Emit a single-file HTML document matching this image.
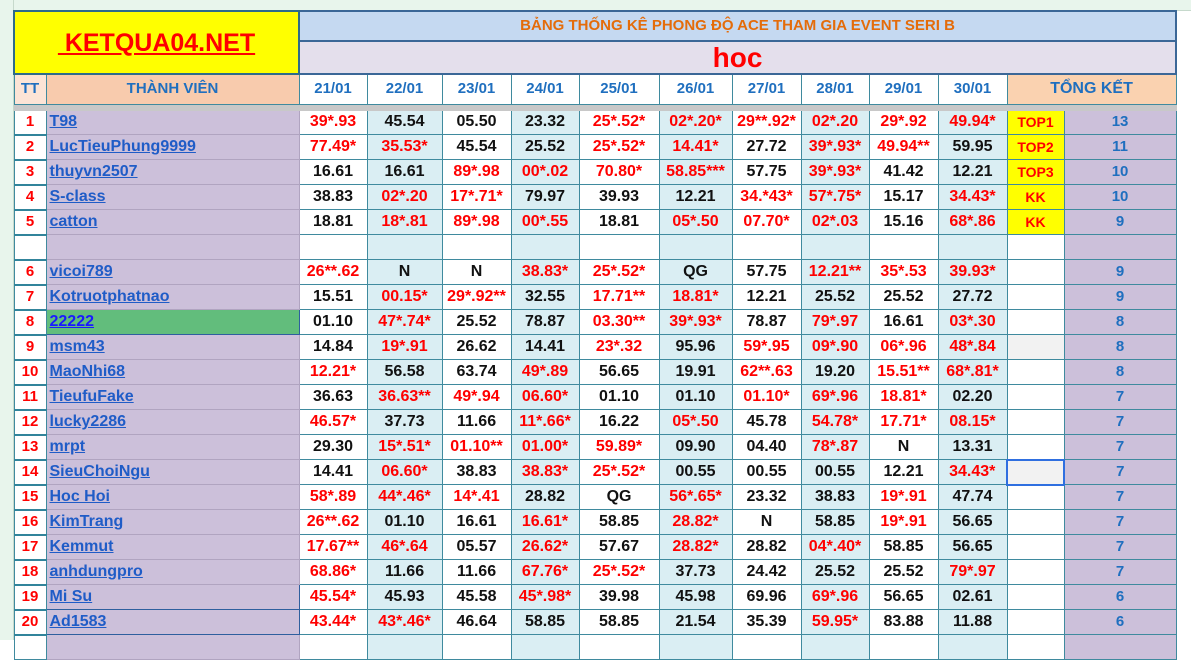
<!DOCTYPE html>
<html><head><meta charset="utf-8">
<style>
body{margin:0;width:1191px;height:640px;overflow:hidden;background:#fff;font-family:"Liberation Sans",Arial,sans-serif;position:relative}
.colhdr{position:absolute;left:0;top:0;width:1191px;height:10px;background:#e8f5ec;border-bottom:1px solid #c6d9cc}
.rowhdr{position:absolute;left:0;top:0;width:13px;height:640px;background:#e8f5ec;border-right:1px solid #c6d9cc}
table{position:absolute;left:13px;top:10px;border-collapse:collapse;table-layout:fixed;width:1162px}
td{border:1px solid #3f8a9e;padding:0;text-align:center;font-weight:bold;font-size:16px;white-space:nowrap;overflow:hidden;color:#111;line-height:18px}
tr.d td{height:23px}
.r{color:#f00}
td.w{background:#fff}
td.b{background:#daeef3}
td.tt{color:#f00;font-size:15px;background:#fff;border-bottom:2px solid #31849b}
td.nm{background:#ccc0da;text-align:left;padding-left:3px;font-size:16px;border-color:#b0a4c0}
td.nm span{color:#1f5cc7;text-decoration:underline}
td.top{background:#fff;font-weight:normal}
td.y{background:#ff0;color:#f00;font-weight:bold;font-size:14px}
td.tot{background:#ccc0da;color:#1f6fbf;font-size:15px}
td.h{color:#1f6fbf;background:#fff;font-size:15px}
</style></head><body>
<div class="colhdr"></div><div class="rowhdr"></div>
<table>
<colgroup><col style="width:32px"><col style="width:253px"><col style="width:68px"><col style="width:75px"><col style="width:69px"><col style="width:68px"><col style="width:80px"><col style="width:73px"><col style="width:69px"><col style="width:68px"><col style="width:69px"><col style="width:69px"><col style="width:57px"><col style="width:112px"></colgroup>
<tr style="height:30px"><td colspan="2" rowspan="2" style="background:#ff0;border:2px solid #2e6b8a"><span style="color:#f00;font-size:25px;line-height:30px;text-decoration:underline">&nbsp;KETQUA04.NET</span></td><td colspan="12" style="background:#c5d9f1;color:#e46c0a;font-size:15px;border:2px solid #3b6797">BẢNG THỐNG KÊ PHONG ĐỘ ACE THAM GIA EVENT SERI B</td></tr>
<tr style="height:33px"><td colspan="12" style="background:#e4dfec;color:#f00;font-size:28px;line-height:30px;border:2px solid #3b6797">hoc</td></tr>
<tr style="height:30px"><td class="h" style="background:#fce4d6">TT</td><td class="h" style="background:#f8cbad">THÀNH VIÊN</td><td class="h">21/01</td><td class="h">22/01</td><td class="h">23/01</td><td class="h">24/01</td><td class="h">25/01</td><td class="h">26/01</td><td class="h">27/01</td><td class="h">28/01</td><td class="h">29/01</td><td class="h">30/01</td><td class="h" colspan="2" style="background:#fad2b0;font-size:16px">TỔNG KẾT</td></tr>
<tr><td colspan="14" style="background:#c8c8c8;border-color:#c8c8c8;height:5px;line-height:5px;font-size:1px"></td></tr>
<tr class="d"><td class="tt">1</td><td class="nm"><span>T98</span></td><td class="w r">39*.93</td><td class="b">45.54</td><td class="w">05.50</td><td class="b">23.32</td><td class="w r">25*.52*</td><td class="b r">02*.20*</td><td class="w r">29**.92*</td><td class="b r">02*.20</td><td class="w r">29*.92</td><td class="b r">49.94*</td><td class="y">TOP1</td><td class="tot">13</td></tr>
<tr class="d"><td class="tt">2</td><td class="nm"><span>LucTieuPhung9999</span></td><td class="w r">77.49*</td><td class="b r">35.53*</td><td class="w">45.54</td><td class="b">25.52</td><td class="w r">25*.52*</td><td class="b r">14.41*</td><td class="w">27.72</td><td class="b r">39*.93*</td><td class="w r">49.94**</td><td class="b">59.95</td><td class="y">TOP2</td><td class="tot">11</td></tr>
<tr class="d"><td class="tt">3</td><td class="nm"><span>thuyvn2507</span></td><td class="w">16.61</td><td class="b">16.61</td><td class="w r">89*.98</td><td class="b r">00*.02</td><td class="w r">70.80*</td><td class="b r">58.85***</td><td class="w">57.75</td><td class="b r">39*.93*</td><td class="w">41.42</td><td class="b">12.21</td><td class="y">TOP3</td><td class="tot">10</td></tr>
<tr class="d"><td class="tt">4</td><td class="nm"><span>S-class</span></td><td class="w">38.83</td><td class="b r">02*.20</td><td class="w r">17*.71*</td><td class="b">79.97</td><td class="w">39.93</td><td class="b">12.21</td><td class="w r">34.*43*</td><td class="b r">57*.75*</td><td class="w">15.17</td><td class="b r">34.43*</td><td class="y">KK</td><td class="tot">10</td></tr>
<tr class="d"><td class="tt">5</td><td class="nm"><span>catton</span></td><td class="w">18.81</td><td class="b r">18*.81</td><td class="w r">89*.98</td><td class="b r">00*.55</td><td class="w">18.81</td><td class="b r">05*.50</td><td class="w r">07.70*</td><td class="b r">02*.03</td><td class="w">15.16</td><td class="b r">68*.86</td><td class="y">KK</td><td class="tot">9</td></tr>
<tr class="d"><td class="tt"></td><td class="nm"></td><td class="w"></td><td class="b"></td><td class="w"></td><td class="b"></td><td class="w"></td><td class="b"></td><td class="w"></td><td class="b"></td><td class="w"></td><td class="b"></td><td class="top"></td><td class="tot"></td></tr>
<tr class="d"><td class="tt">6</td><td class="nm"><span>vicoi789</span></td><td class="w r">26**.62</td><td class="b">N</td><td class="w">N</td><td class="b r">38.83*</td><td class="w r">25*.52*</td><td class="b">QG</td><td class="w">57.75</td><td class="b r">12.21**</td><td class="w r">35*.53</td><td class="b r">39.93*</td><td class="top"></td><td class="tot">9</td></tr>
<tr class="d"><td class="tt">7</td><td class="nm"><span>Kotruotphatnao</span></td><td class="w">15.51</td><td class="b r">00.15*</td><td class="w r">29*.92**</td><td class="b">32.55</td><td class="w r">17.71**</td><td class="b r">18.81*</td><td class="w">12.21</td><td class="b">25.52</td><td class="w">25.52</td><td class="b">27.72</td><td class="top"></td><td class="tot">9</td></tr>
<tr class="d"><td class="tt">8</td><td class="nm" style="background:#62bd7c;border:1px solid #2e5f9e"><span style="color:#1a1aff">22222</span></td><td class="w">01.10</td><td class="b r">47*.74*</td><td class="w">25.52</td><td class="b">78.87</td><td class="w r">03.30**</td><td class="b r">39*.93*</td><td class="w">78.87</td><td class="b r">79*.97</td><td class="w">16.61</td><td class="b r">03*.30</td><td class="top"></td><td class="tot">8</td></tr>
<tr class="d"><td class="tt">9</td><td class="nm"><span>msm43</span></td><td class="w">14.84</td><td class="b r">19*.91</td><td class="w">26.62</td><td class="b">14.41</td><td class="w r">23*.32</td><td class="b">95.96</td><td class="w r">59*.95</td><td class="b r">09*.90</td><td class="w r">06*.96</td><td class="b r">48*.84</td><td class="top" style="background:#f2f2f2"></td><td class="tot">8</td></tr>
<tr class="d"><td class="tt">10</td><td class="nm"><span>MaoNhi68</span></td><td class="w r">12.21*</td><td class="b">56.58</td><td class="w">63.74</td><td class="b r">49*.89</td><td class="w">56.65</td><td class="b">19.91</td><td class="w r">62**.63</td><td class="b">19.20</td><td class="w r">15.51**</td><td class="b r">68*.81*</td><td class="top"></td><td class="tot">8</td></tr>
<tr class="d"><td class="tt">11</td><td class="nm"><span>TieufuFake</span></td><td class="w">36.63</td><td class="b r">36.63**</td><td class="w r">49*.94</td><td class="b r">06.60*</td><td class="w">01.10</td><td class="b">01.10</td><td class="w r">01.10*</td><td class="b r">69*.96</td><td class="w r">18.81*</td><td class="b">02.20</td><td class="top"></td><td class="tot">7</td></tr>
<tr class="d"><td class="tt">12</td><td class="nm"><span>lucky2286</span></td><td class="w r">46.57*</td><td class="b">37.73</td><td class="w">11.66</td><td class="b r">11*.66*</td><td class="w">16.22</td><td class="b r">05*.50</td><td class="w">45.78</td><td class="b r">54.78*</td><td class="w r">17.71*</td><td class="b r">08.15*</td><td class="top"></td><td class="tot">7</td></tr>
<tr class="d"><td class="tt">13</td><td class="nm"><span>mrpt</span></td><td class="w">29.30</td><td class="b r">15*.51*</td><td class="w r">01.10**</td><td class="b r">01.00*</td><td class="w r">59.89*</td><td class="b">09.90</td><td class="w">04.40</td><td class="b r">78*.87</td><td class="w">N</td><td class="b">13.31</td><td class="top"></td><td class="tot">7</td></tr>
<tr class="d"><td class="tt">14</td><td class="nm"><span>SieuChoiNgu</span></td><td class="w">14.41</td><td class="b r">06.60*</td><td class="w">38.83</td><td class="b r">38.83*</td><td class="w r">25*.52*</td><td class="b">00.55</td><td class="w">00.55</td><td class="b">00.55</td><td class="w">12.21</td><td class="b r">34.43*</td><td class="top" style="background:#f2f2f2;border:2px solid #2f6fe0"></td><td class="tot">7</td></tr>
<tr class="d"><td class="tt">15</td><td class="nm"><span>Hoc Hoi</span></td><td class="w r">58*.89</td><td class="b r">44*.46*</td><td class="w r">14*.41</td><td class="b">28.82</td><td class="w">QG</td><td class="b r">56*.65*</td><td class="w">23.32</td><td class="b">38.83</td><td class="w r">19*.91</td><td class="b">47.74</td><td class="top"></td><td class="tot">7</td></tr>
<tr class="d"><td class="tt">16</td><td class="nm"><span>KimTrang</span></td><td class="w r">26**.62</td><td class="b">01.10</td><td class="w">16.61</td><td class="b r">16.61*</td><td class="w">58.85</td><td class="b r">28.82*</td><td class="w">N</td><td class="b">58.85</td><td class="w r">19*.91</td><td class="b">56.65</td><td class="top"></td><td class="tot">7</td></tr>
<tr class="d"><td class="tt">17</td><td class="nm"><span>Kemmut</span></td><td class="w r">17.67**</td><td class="b r">46*.64</td><td class="w">05.57</td><td class="b r">26.62*</td><td class="w">57.67</td><td class="b r">28.82*</td><td class="w">28.82</td><td class="b r">04*.40*</td><td class="w">58.85</td><td class="b">56.65</td><td class="top"></td><td class="tot">7</td></tr>
<tr class="d"><td class="tt">18</td><td class="nm"><span>anhdungpro</span></td><td class="w r">68.86*</td><td class="b">11.66</td><td class="w">11.66</td><td class="b r">67.76*</td><td class="w r">25*.52*</td><td class="b">37.73</td><td class="w">24.42</td><td class="b">25.52</td><td class="w">25.52</td><td class="b r">79*.97</td><td class="top"></td><td class="tot">7</td></tr>
<tr class="d"><td class="tt">19</td><td class="nm" style="border-color:#2e5f9e"><span>Mi Su</span></td><td class="w r">45.54*</td><td class="b">45.93</td><td class="w">45.58</td><td class="b r">45*.98*</td><td class="w">39.98</td><td class="b">45.98</td><td class="w">69.96</td><td class="b r">69*.96</td><td class="w">56.65</td><td class="b">02.61</td><td class="top"></td><td class="tot">6</td></tr>
<tr class="d"><td class="tt">20</td><td class="nm" style="border-color:#2e5f9e"><span>Ad1583</span></td><td class="w r">43.44*</td><td class="b r">43*.46*</td><td class="w">46.64</td><td class="b">58.85</td><td class="w">58.85</td><td class="b">21.54</td><td class="w">35.39</td><td class="b r">59.95*</td><td class="w">83.88</td><td class="b">11.88</td><td class="top"></td><td class="tot">6</td></tr>
<tr class="d"><td class="tt" style="border-bottom:1px solid #3f8a9e"></td><td class="nm"></td><td class="w"></td><td class="b"></td><td class="w"></td><td class="b"></td><td class="w"></td><td class="b"></td><td class="w"></td><td class="b"></td><td class="w"></td><td class="b"></td><td class="top"></td><td class="tot"></td></tr>
</table>
</body></html>
